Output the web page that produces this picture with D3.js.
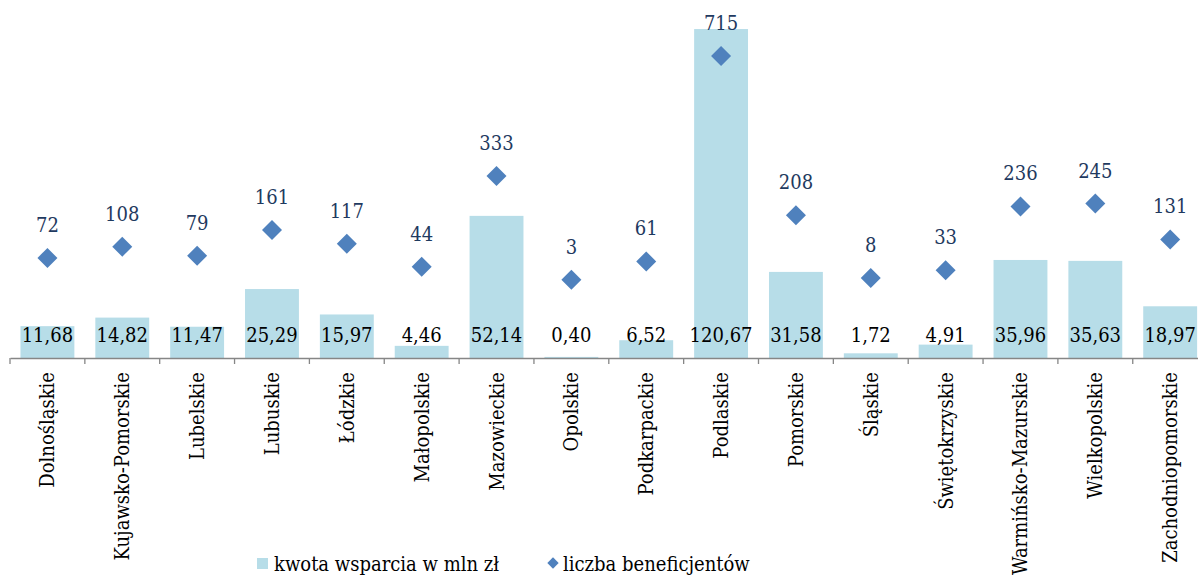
<!DOCTYPE html>
<html>
<head>
<meta charset="utf-8">
<script src="https://cdn.jsdelivr.net/npm/d3@7"></script>
<style>
  body { margin: 0; background: #fff; }
  svg { display: block; }
  text { font-stretch: condensed; }
</style>
</head>
<body>
<div id="chart"></div>
<script>
// Dane z wykresu
var regions = ["Dolnośląskie", "Kujawsko-Pomorskie", "Lubelskie", "Lubuskie", "Łódzkie", "Małopolskie",
  "Mazowieckie", "Opolskie", "Podkarpackie", "Podlaskie", "Pomorskie", "Śląskie", "Świętokrzyskie",
  "Warmińsko-Mazurskie", "Wielkopolskie", "Zachodniopomorskie"];
var kwota = [11.68, 14.82, 11.47, 25.29, 15.97, 4.46, 52.14, 0.40, 6.52, 120.67, 31.58, 1.72, 4.91, 35.96, 35.63, 18.97];
var beneficjenci = [72, 108, 79, 161, 117, 44, 333, 3, 61, 715, 208, 8, 33, 236, 245, 131];
var legendLabels = ["kwota wsparcia w mln zł", "liczba beneficjentów"];

var width = 1198, height = 577;
var font = "DejaVu Serif, serif";
var fontSize = "20px";
var axisY = 358;

var svg = d3.select("#chart").append("svg").attr("width", width).attr("height", height);

// Skale
var x = d3.scaleBand().domain(regions).range([10, 10 + 16 * 74.85]).paddingInner(0.28).paddingOuter(0.14);
var xStep = d3.scaleBand().domain(regions).range([10, 10 + 16 * 74.85]);
var y = d3.scaleLinear().domain([0, 140]).range([axisY, axisY - 140 * 2.726]);
var y2 = d3.scaleLinear().domain([0, 800]).range([280.6, 280.6 - 800 * 0.3142]);

// Słupki
svg.selectAll("rect.bar")
  .data(kwota)
  .enter()
  .append("rect")
  .attr("class", "bar")
  .attr("x", (d, i) => x(regions[i]))
  .attr("y", d => y(d))
  .attr("width", x.bandwidth())
  .attr("height", d => y(0) - y(d))
  .attr("fill", "#b7dde8");

// Oś X
var xAxis = d3.axisBottom(xStep).tickSize(0).tickFormat("");
var gx = svg.append("g").attr("transform", "translate(0," + axisY + ")").call(xAxis);
gx.select(".domain").attr("stroke", "#868686").attr("stroke-width", 1.3);
// znaczniki między kategoriami
gx.selectAll("line.sep")
  .data(d3.range(regions.length + 1))
  .enter()
  .append("line")
  .attr("class", "sep")
  .attr("x1", i => 10 + i * xStep.step())
  .attr("x2", i => 10 + i * xStep.step())
  .attr("y1", 0)
  .attr("y2", 6)
  .attr("stroke", "#868686")
  .attr("stroke-width", 1.3);

// Etykiety kategorii
svg.selectAll("text.cat")
  .data(regions)
  .enter()
  .append("text")
  .attr("class", "cat")
  .attr("transform", d => "translate(" + (xStep(d) + xStep.bandwidth() / 2 + 7) + "," + (axisY + 14) + ") rotate(-90)")
  .attr("text-anchor", "end")
  .attr("font-family", font)
  .attr("font-size", fontSize)
  .attr("fill", "#000")
  .text(d => d);

// Wartości słupków
svg.selectAll("text.val")
  .data(kwota)
  .enter()
  .append("text")
  .attr("class", "val")
  .attr("x", (d, i) => xStep(regions[i]) + xStep.bandwidth() / 2)
  .attr("y", axisY - 16)
  .attr("text-anchor", "middle")
  .attr("font-family", font)
  .attr("font-size", fontSize)
  .attr("fill", "#000")
  .text(d => d.toFixed(2).replace(".", ","));

// Romby - liczba beneficjentów
var diamond = d3.symbol().type(d3.symbolSquare).size(200);
svg.selectAll("path.pt")
  .data(beneficjenci)
  .enter()
  .append("path")
  .attr("class", "pt")
  .attr("d", diamond)
  .attr("transform", (d, i) => "translate(" + (xStep(regions[i]) + xStep.bandwidth() / 2) + "," + y2(d) + ") rotate(45)")
  .attr("fill", "#4f81bd");

svg.selectAll("text.pv")
  .data(beneficjenci)
  .enter()
  .append("text")
  .attr("class", "pv")
  .attr("x", (d, i) => xStep(regions[i]) + xStep.bandwidth() / 2)
  .attr("y", d => y2(d) - 26)
  .attr("text-anchor", "middle")
  .attr("font-family", font)
  .attr("font-size", fontSize)
  .attr("fill", "#1f3a60")
  .text(d => d);

// Legenda
var legend = svg.append("g");
legend.append("rect").attr("x", 257).attr("y", 558).attr("width", 11).attr("height", 11).attr("fill", "#b7dde8");
legend.append("text").attr("x", 274).attr("y", 571).attr("font-family", font).attr("font-size", fontSize).text(legendLabels[0]);
legend.append("path").attr("d", d3.symbol().type(d3.symbolSquare).size(64))
  .attr("transform", "translate(553,563) rotate(45)").attr("fill", "#4f81bd");
legend.append("text").attr("x", 563).attr("y", 571).attr("font-family", font).attr("font-size", fontSize).text(legendLabels[1]);
</script>
</body>
</html>
